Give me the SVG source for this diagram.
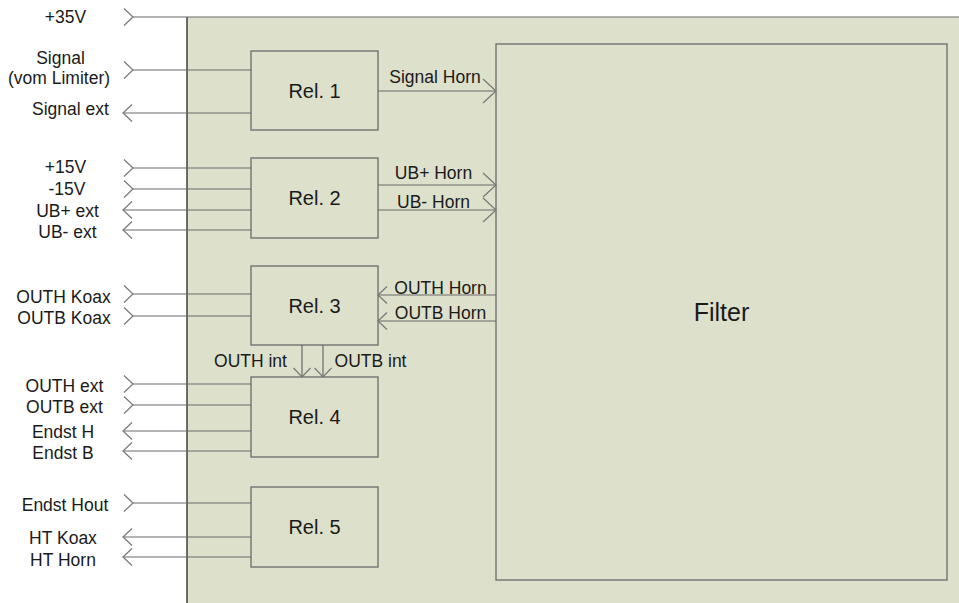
<svg xmlns="http://www.w3.org/2000/svg" width="959" height="603" viewBox="0 0 959 603">
<defs>
<marker id="ch" markerUnits="userSpaceOnUse" markerWidth="24" markerHeight="24" viewBox="-12 -12 24 24" refX="0" refY="0" orient="auto" overflow="visible">
<path d="M-9,-8.5 L0,0 L-9,8.5" fill="none" stroke="#777" stroke-width="1.2"/>
</marker>
<marker id="chb" markerUnits="userSpaceOnUse" markerWidth="30" markerHeight="30" viewBox="-15 -15 30 30" refX="0" refY="0" orient="auto" overflow="visible">
<path d="M-13,-12 L0,0 L-13,12" fill="none" stroke="#777" stroke-width="1.2"/>
</marker>
<style>
.t{font-family:"Liberation Sans",Arial,sans-serif;font-size:17.5px;fill:#1a1a1a;text-anchor:middle}
.r{font-size:20px}
.box{fill:none;stroke:#737373;stroke-width:1.4}
.ln{fill:none;stroke:#6a6a6a;stroke-width:1.2}
.in{marker-start:url(#ch)}
.out{marker-end:url(#ch)}
.big{marker-end:url(#chb)}
</style>
</defs>
<rect x="0" y="0" width="959" height="603" fill="#ffffff"/>
<rect id="panel" x="187" y="17" width="772" height="586" fill="#dde0cb"/>
<line x1="187" y1="17" x2="187" y2="603" stroke="#333" stroke-width="1.4"/>

<g id="rel1"><rect class="box" x="251" y="51" width="127" height="79"/><text class="t r" x="314.5" y="98">Rel. 1</text></g>
<g id="rel2"><rect class="box" x="251" y="158" width="127" height="80"/><text class="t r" x="314.5" y="205">Rel. 2</text></g>
<g id="rel3"><rect class="box" x="251" y="266" width="127" height="79"/><text class="t r" x="314.5" y="313">Rel. 3</text></g>
<g id="rel4"><rect class="box" x="251" y="377" width="127" height="80"/><text class="t r" x="314.5" y="424">Rel. 4</text></g>
<g id="rel5"><rect class="box" x="251" y="487" width="127" height="80"/><text class="t r" x="314.5" y="534">Rel. 5</text></g>
<g id="filter"><rect class="box" x="496" y="44" width="451" height="536"/><text class="t" style="font-size:25px" x="721.5" y="321">Filter</text></g>

<g id="connectors">
<path class="ln in" d="M133,17 H959"/>
<path class="ln in" d="M133,70 H251"/>
<path class="ln out" d="M251,113 H123"/>
<path class="ln big" d="M378,91 H496"/>
<path class="ln in" d="M133,168 H251"/>
<path class="ln in" d="M133,189 H251"/>
<path class="ln out" d="M251,210 H123"/>
<path class="ln out" d="M251,230 H123" stroke="#444"/>
<path class="ln big" d="M378,185 H496"/>
<path class="ln big" d="M378,210 H496"/>
<path class="ln in" d="M133,294 H251"/>
<path class="ln in" d="M133,316 H251"/>
<path class="ln out" d="M496,295 H378"/>
<path class="ln out" d="M496,321 H378"/>
<path class="ln out" d="M302,345 V377"/>
<path class="ln out" d="M323,345 V377"/>
<path class="ln in" d="M133,384 H251"/>
<path class="ln in" d="M133,405 H251"/>
<path class="ln out" d="M251,431 H123"/>
<path class="ln out" d="M251,451 H123"/>
<path class="ln in" d="M133,503 H251"/>
<path class="ln out" d="M251,537 H123"/>
<path class="ln out" d="M251,557 H123"/>
</g>

<g id="labels">
<text class="t" x="65.5" y="23">+35V</text>
<text class="t" x="60.5" y="64">Signal</text>
<text class="t" x="59" y="84">(vom Limiter)</text>
<text class="t" x="70.5" y="115">Signal ext</text>
<text class="t" x="65.5" y="173">+15V</text>
<text class="t" x="67" y="195">-15V</text>
<text class="t" x="67.5" y="217">UB+ ext</text>
<text class="t" x="67.5" y="238">UB- ext</text>
<text class="t" x="63.5" y="303">OUTH Koax</text>
<text class="t" x="64" y="324">OUTB Koax</text>
<text class="t" x="64.5" y="392">OUTH ext</text>
<text class="t" x="64.5" y="413">OUTB ext</text>
<text class="t" x="63" y="438">Endst H</text>
<text class="t" x="63" y="459">Endst B</text>
<text class="t" x="65" y="511">Endst Hout</text>
<text class="t" x="63" y="544">HT Koax</text>
<text class="t" x="63" y="566">HT Horn</text>
<text class="t" x="435" y="83">Signal Horn</text>
<text class="t" x="433.5" y="179">UB+ Horn</text>
<text class="t" x="433.5" y="208">UB- Horn</text>
<text class="t" x="440.5" y="294">OUTH Horn</text>
<text class="t" x="440.5" y="319">OUTB Horn</text>
<text class="t" x="250.5" y="367">OUTH int</text>
<text class="t" x="370.5" y="367">OUTB int</text>
</g>
</svg>
